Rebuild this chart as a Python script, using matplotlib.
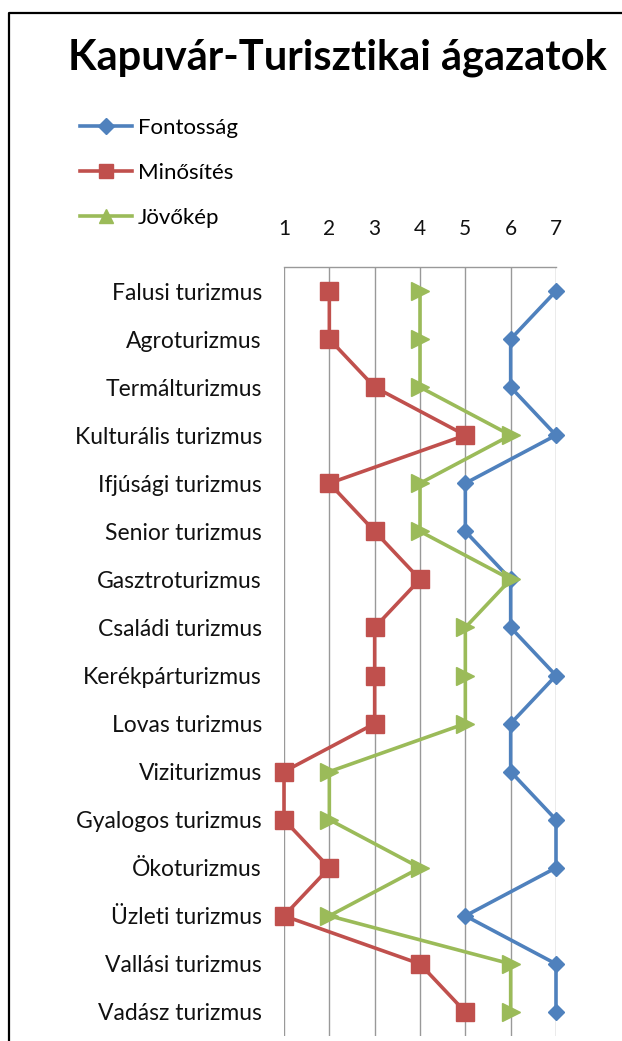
import matplotlib.pyplot as plt
from matplotlib.lines import Line2D

plt.rcParams['font.family'] = ['Lato', 'DejaVu Sans']

# categories (top to bottom)
categories = ['Falusi turizmus', 'Agroturizmus', 'Termálturizmus', 'Kulturális turizmus',
              'Ifjúsági turizmus', 'Senior turizmus', 'Gasztroturizmus', 'Családi turizmus',
              'Kerékpárturizmus', 'Lovas turizmus', 'Viziturizmus', 'Gyalogos turizmus',
              'Ökoturizmus', 'Üzleti turizmus', 'Vallási turizmus', 'Vadász turizmus']

fontossag = [7, 6, 6, 7, 5, 5, 6, 6, 7, 6, 6, 7, 7, 5, 7, 7]
minosites = [2, 2, 3, 5, 2, 3, 4, 3, 3, 3, 1, 1, 2, 1, 4, 5]
jovokep = [4, 4, 4, 6, 4, 4, 6, 5, 5, 5, 2, 2, 4, 2, 6, 6]

x_ticks = [1, 2, 3, 4, 5, 6, 7]

blue = '#4F81BD'
red = '#C0504D'
green = '#9BBB59'

W, H = 622, 1041
fig = plt.figure(figsize=(W / 100, H / 100), dpi=100)
ax = fig.add_axes([284 / W, 1 - 1036 / H, (556 - 284) / W, (1036 - 267) / H])

y = list(range(len(categories)))

ax.plot(fontossag, y, color=blue, lw=2.6, marker='D', ms=8.5, zorder=3, clip_on=False)
ax.plot(minosites, y, color=red, lw=2.6, marker='s', ms=12.5, zorder=3, clip_on=False)
ax.plot(jovokep, y, color=green, lw=2.6, marker='>', ms=12.5, zorder=3, clip_on=False)

ax.set_xlim(1, 7)
ax.set_ylim(len(categories) - 0.5, -0.5)
ax.set_xticks(x_ticks)
ax.set_xticklabels([str(t) for t in x_ticks])
ax.xaxis.tick_top()
ax.tick_params(axis='x', length=0, pad=20, labelsize=15, colors='#111111')
ax.set_yticks(y)
ax.set_yticklabels(categories)
ax.tick_params(axis='y', length=0, pad=16, labelsize=16.5, colors='#111111')
ax.grid(axis='x', color='#999999', lw=1)
ax.set_axisbelow(True)
for side in ['bottom', 'right', 'left']:
    ax.spines[side].set_visible(False)
ax.spines['top'].set_color('#999999')
ax.spines['top'].set_linewidth(1)

# title
fig.text(337 / W, 1 - 58 / H, 'Kapuvár-Turisztikai ágazatok', ha='center', va='center',
         fontsize=30, fontweight='bold')

# legend
handles = [
    Line2D([], [], color=blue, lw=2.6, marker='D', ms=8),
    Line2D([], [], color=red, lw=2.6, marker='s', ms=10),
    Line2D([], [], color=green, lw=2.6, marker='^', ms=10),
]
fig.legend(handles, ['Fontosság', 'Minősítés', 'Jövőkép'], loc='upper left',
           bbox_to_anchor=(80 / W, 1 - 118 / H), frameon=False, fontsize=16,
           handlelength=2.35, handletextpad=0.27, labelspacing=1.13, borderpad=0,
           borderaxespad=0)

# outer frame
fig.add_artist(Line2D([9 / W, 9 / W, 1], [0, 1 - 13 / H, 1 - 13 / H],
                      color='black', lw=1.6, transform=fig.transFigure))

fig.savefig('out.png', dpi=100)
